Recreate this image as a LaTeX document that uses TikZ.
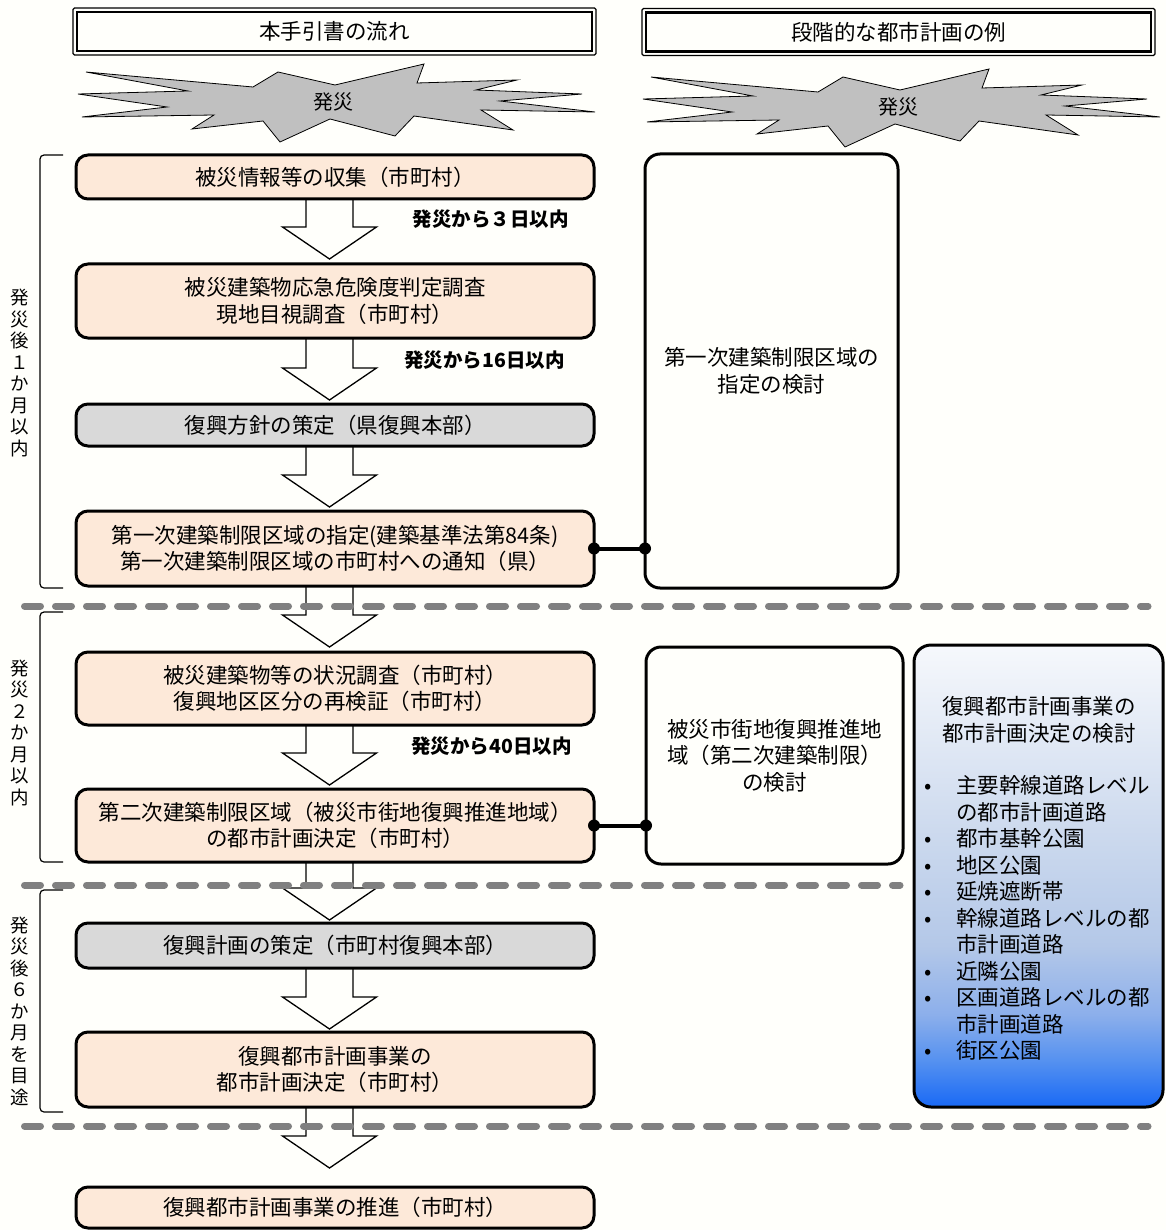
\documentclass[tikz,border=0pt]{standalone}
\usepackage{fontspec}
\setmainfont{Noto Sans CJK JP}
\usetikzlibrary{calc}
\definecolor{peach}{RGB}{253,233,217}
\definecolor{boxgray}{RGB}{217,217,217}
\definecolor{burstgray}{RGB}{192,192,192}
\definecolor{dashgray}{RGB}{128,128,128}
\definecolor{bgcream}{RGB}{255,255,251}
\definecolor{bbA}{RGB}{25,105,245}
\definecolor{bbB}{RGB}{85,145,240}
\definecolor{bbC}{RGB}{140,175,235}
\definecolor{bbD}{RGB}{180,200,232}
\definecolor{bbE}{RGB}{205,218,238}
\definecolor{bbF}{RGB}{246,248,252}
\pgfdeclareverticalshading{bluegrad}{100bp}{color(0bp)=(bbA); color(25bp)=(bbA); color(30bp)=(bbB); color(35bp)=(bbC); color(42.5bp)=(bbD); color(55bp)=(bbE); color(75bp)=(bbF); color(100bp)=(bbF)}
\pgfdeclarelayer{back}
\pgfdeclarelayer{bg}
\pgfsetlayers{back,bg,main}
\newcommand\burstpath{(86,72) -- (253,87) -- (278,72) -- (335,85) -- (424,64) -- (417,83) -- (517,80) -- (476,90) -- (582,94) -- (500,101) -- (595,112) -- (481,110) -- (513,130) -- (414,116) -- (395,136) -- (330,119) -- (280,142) -- (263,121) -- (192,129) -- (214,115) -- (82,117) -- (167,107) -- (78,94) -- (188,91) -- cycle}
\newcommand\blockarrow[3]{%
  \draw[barrow] ($(#1.south)+(-29,0)$) -- ($(#2.north)+(-29,-#3-32)$) -- ($(#2.north)+(-52.5,-#3-32)$) -- ($(#2.north)+(-5.5,-#3)$) -- ($(#2.north)+(41.5,-#3-32)$) -- ($(#2.north)+(18,-#3-32)$) -- ($(#1.south)+(18,0)$);}
\begin{document}
\begin{tikzpicture}[x=1pt,y=-1pt,
  every node/.style={inner sep=0pt, outer sep=0pt},
  txtmain/.style={font=\fontsize{21.5}{26.5}\selectfont},
  flowbox/.style={draw=black, line width=3pt, rounded corners=12pt, minimum width=518pt, align=center, txtmain},
  peachbox/.style={flowbox, fill=peach},
  graybox/.style={flowbox, fill=boxgray},
  sidebox/.style={draw=black, line width=3pt, rounded corners=15pt, align=center, txtmain},
  hdr/.style={draw=black, line width=1.2pt, rounded corners=1.5pt, txtmain},
  burst/.style={draw=black, line width=0.8pt, fill=burstgray},
  barrow/.style={draw=black, line width=1.3pt, fill=bgcream, line join=miter},
  sepline/.style={draw=dashgray, line width=7pt, line cap=round, dash pattern=on 16pt off 15pt},
  brk/.style={draw=black, line width=1.2pt, rounded corners=4pt},
  vlabel/.style={align=center, font=\fontsize{18.5}{21.5}\selectfont},
  boldlbl/.style={font=\bfseries\fontsize{19.5}{22}\selectfont},
  conn/.style={draw=black, line width=4pt},
]
\useasboundingbox (0,0) rectangle (1166,1230);
\begin{pgfonlayer}{back}
  \fill[bgcream] (0,0) rectangle (1166,1230);
\end{pgfonlayer}

% headers
\node[hdr, minimum width=523pt, minimum height=47pt] (h1) at (334.5,31.5) {本手引書の流れ};
\draw[line width=2.4pt] ($(h1.north west)+(4,4)$) rectangle ($(h1.south east)+(-4,-4)$);
\node[hdr, minimum width=513pt, minimum height=47pt] (h2) at (898.5,32) {段階的な都市計画の例};
\draw[line width=2.4pt] ($(h2.north west)+(4,4)$) rectangle ($(h2.south east)+(-4,-4)$);

% explosions
\draw[burst] \burstpath;
\node[txtmain, font=\fontsize{20}{24}\selectfont] (e1) at (333,102) {発災};
\begin{scope}[shift={(565,5)}]
  \draw[burst] \burstpath;
\end{scope}
\node[txtmain, font=\fontsize{20}{24}\selectfont] (e2) at (898,107) {発災};

% left flow boxes
\node[peachbox, minimum height=44pt] (b1) at (335,177) {被災情報等の収集（市町村）};
\node[peachbox, minimum height=74pt] (b2) at (335,301) {被災建築物応急危険度判定調査\\現地目視調査（市町村）};
\node[graybox, minimum height=42pt] (b3) at (335,425) {復興方針の策定（県復興本部）};
\node[peachbox, minimum height=75pt] (b4) at (335,548.5) {第一次建築制限区域の指定(建築基準法第84条)\\第一次建築制限区域の市町村への通知（県）};
\node[peachbox, minimum height=73pt] (b5) at (335,688.5) {被災建築物等の状況調査（市町村）\\復興地区区分の再検証（市町村）};
\node[peachbox, minimum height=73pt] (b6) at (335,825.5) {第二次建築制限区域（被災市街地復興推進地域）\\の都市計画決定（市町村）};
\node[graybox, minimum height=45pt] (b7) at (335,945.5) {復興計画の策定（市町村復興本部）};
\node[peachbox, minimum height=75pt] (b8) at (335,1069.5) {復興都市計画事業の\\都市計画決定（市町村）};
\node[peachbox, minimum height=41pt] (b9) at (335,1207.5) {復興都市計画事業の推進（市町村）};

% right boxes
\node[sidebox, minimum width=253pt, minimum height=434pt] (r1) at (771.5,371) {第一次建築制限区域の\\指定の検討};
\node[sidebox, minimum width=257pt, minimum height=217pt] (r2) at (774.5,755.5) {被災市街地復興推進地\\域（第二次建築制限）\\の検討};
\node[draw=black, line width=3pt, rounded corners=17pt, shading=bluegrad, minimum width=249pt, minimum height=462pt] (r3) at (1038.5,876) {};
\node[txtmain, align=center] (r3t) at (1039,720) {復興都市計画事業の\\都市計画決定の検討};
\node[txtmain, align=left, anchor=west] (r3l) at (924,918) {%
\makebox[32pt][l]{•}主要幹線道路レベル\\
\hspace*{32pt}の都市計画道路\\
\makebox[32pt][l]{•}都市基幹公園\\
\makebox[32pt][l]{•}地区公園\\
\makebox[32pt][l]{•}延焼遮断帯\\
\makebox[32pt][l]{•}幹線道路レベルの都\\
\hspace*{32pt}市計画道路\\
\makebox[32pt][l]{•}近隣公園\\
\makebox[32pt][l]{•}区画道路レベルの都\\
\hspace*{32pt}市計画道路\\
\makebox[32pt][l]{•}街区公園};

% time labels
\node[boldlbl] (t1) at (490.5,219) {発災から３日以内};
\node[boldlbl] (t2) at (484.5,360) {発災から16日以内};
\node[boldlbl] (t3) at (491.5,746) {発災から40日以内};

% connectors
\draw[conn] (b4.east) -- (b4.east -| r1.west);
\fill (b4.east) circle[radius=6pt];
\fill (b4.east -| r1.west) circle[radius=6pt];
\draw[conn] (b6.east) -- (b6.east -| r2.west);
\fill (b6.east) circle[radius=6pt];
\fill (b6.east -| r2.west) circle[radius=6pt];

% brackets and period labels
\draw[brk] (63,155) -- (40,155) -- (40,588) -- (63,588);
\node[vlabel] (p1) at (20,373) {発\\災\\後\\１\\か\\月\\以\\内};
\draw[brk] (63,612) -- (40,612) -- (40,862) -- (63,862);
\node[vlabel] (p2) at (20,733) {発\\災\\２\\か\\月\\以\\内};
\draw[brk] (63,890) -- (40,890) -- (40,1112) -- (63,1112);
\node[vlabel] (p3) at (20,1011) {発\\災\\後\\６\\か\\月\\を\\目\\途};

% block arrows and separators (behind boxes)
\begin{pgfonlayer}{bg}
  \blockarrow{b1}{b2}{5}
  \blockarrow{b2}{b3}{4}
  \blockarrow{b3}{b4}{4}
  \blockarrow{b4}{b5}{5}
  \blockarrow{b5}{b6}{4}
  \blockarrow{b6}{b7}{3}
  \blockarrow{b7}{b8}{3}
  \blockarrow{b8}{b9}{19}
  \draw[sepline] (24.5,606) -- (1148,606);
  \draw[sepline] (24.5,885) -- (900,885);
  \draw[sepline] (24.5,1126) -- (1148,1126);
\end{pgfonlayer}
\end{tikzpicture}
\end{document}
